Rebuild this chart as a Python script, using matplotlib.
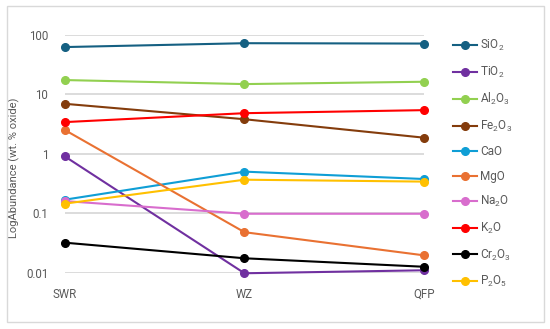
import matplotlib.pyplot as plt
from matplotlib.patches import Rectangle

sites = ['SWR', 'WZ', 'QFP']
oxides = ['SiO$_2$', 'TiO$_2$', 'Al$_2$O$_3$', 'Fe$_2$O$_3$', 'CaO',
          'MgO', 'Na$_2$O', 'K$_2$O', 'Cr$_2$O$_3$', 'P$_2$O$_5$']
sio2 = [62, 72, 71]
tio2 = [0.90, 0.0098, 0.011]
al2o3 = [17.3, 14.8, 16.2]
fe2o3 = [6.9, 3.8, 1.86]
cao = [0.169, 0.50, 0.376]
mgo = [2.5, 0.048, 0.0196]
na2o = [0.16, 0.098, 0.098]
k2o = [3.4, 4.8, 5.4]
cr2o3 = [0.032, 0.0175, 0.0126]
p2o5 = [0.145, 0.366, 0.34]
values = [sio2, tio2, al2o3, fe2o3, cao, mgo, na2o, k2o, cr2o3, p2o5]
colors = ['#156082', '#7030A0', '#92D050', '#843C0C', '#0F9ED5',
          '#E97132', '#D86DCD', '#FF0000', '#000000', '#FFC000']

plt.rcParams['font.family'] = ['Roboto', 'DejaVu Sans']
plt.rcParams['mathtext.fontset'] = 'custom'
plt.rcParams['mathtext.rm'] = 'Roboto'
plt.rcParams['mathtext.it'] = 'Roboto'

fig = plt.figure(figsize=(5.5, 3.29), dpi=100)
ax = fig.add_axes([0.118, 0.171, 0.653, 0.7235])

x = list(range(len(sites)))
for name, vals, c in zip(oxides, values, colors):
    ax.plot(x, vals, color=c, lw=1.5, marker='o', ms=5.5, label=name, clip_on=False)

ax.set_yscale('log')
ax.set_ylim(0.01, 100)
ax.set_xlim(0, 2)
ax.set_yticks([0.01, 0.1, 1, 10, 100])
ax.set_yticklabels(['0.01', '0.1', '1', '10', '100'])
ax.minorticks_off()
ax.set_xticks(x)
ax.set_xticklabels(sites)
ax.tick_params(length=0, labelsize=8.3, labelcolor='#595959')
ax.tick_params(axis='x', pad=11)
ax.tick_params(axis='y', pad=12)
ax.grid(axis='y', color='#D9D9D9', lw=1.3)
ax.set_axisbelow(True)
for s in ax.spines.values():
    s.set_visible(False)
ax.set_ylabel('LogAbundance (wt. % oxide)', fontsize=8, color='#595959')
ax.yaxis.set_label_coords(-0.125, 0.44)

ax.legend(loc='upper left', bbox_to_anchor=(1.05, 1.03), frameon=False, fontsize=8.5,
          labelcolor='#595959', handlelength=2.1, handletextpad=0.25, labelspacing=0.97)

fig.patches.append(Rectangle((7 / 550, 7 / 329), 537 / 550, 316 / 329, transform=fig.transFigure,
                             fill=False, edgecolor='#D9D9D9', lw=1))

fig.savefig('out.png', dpi=100)
